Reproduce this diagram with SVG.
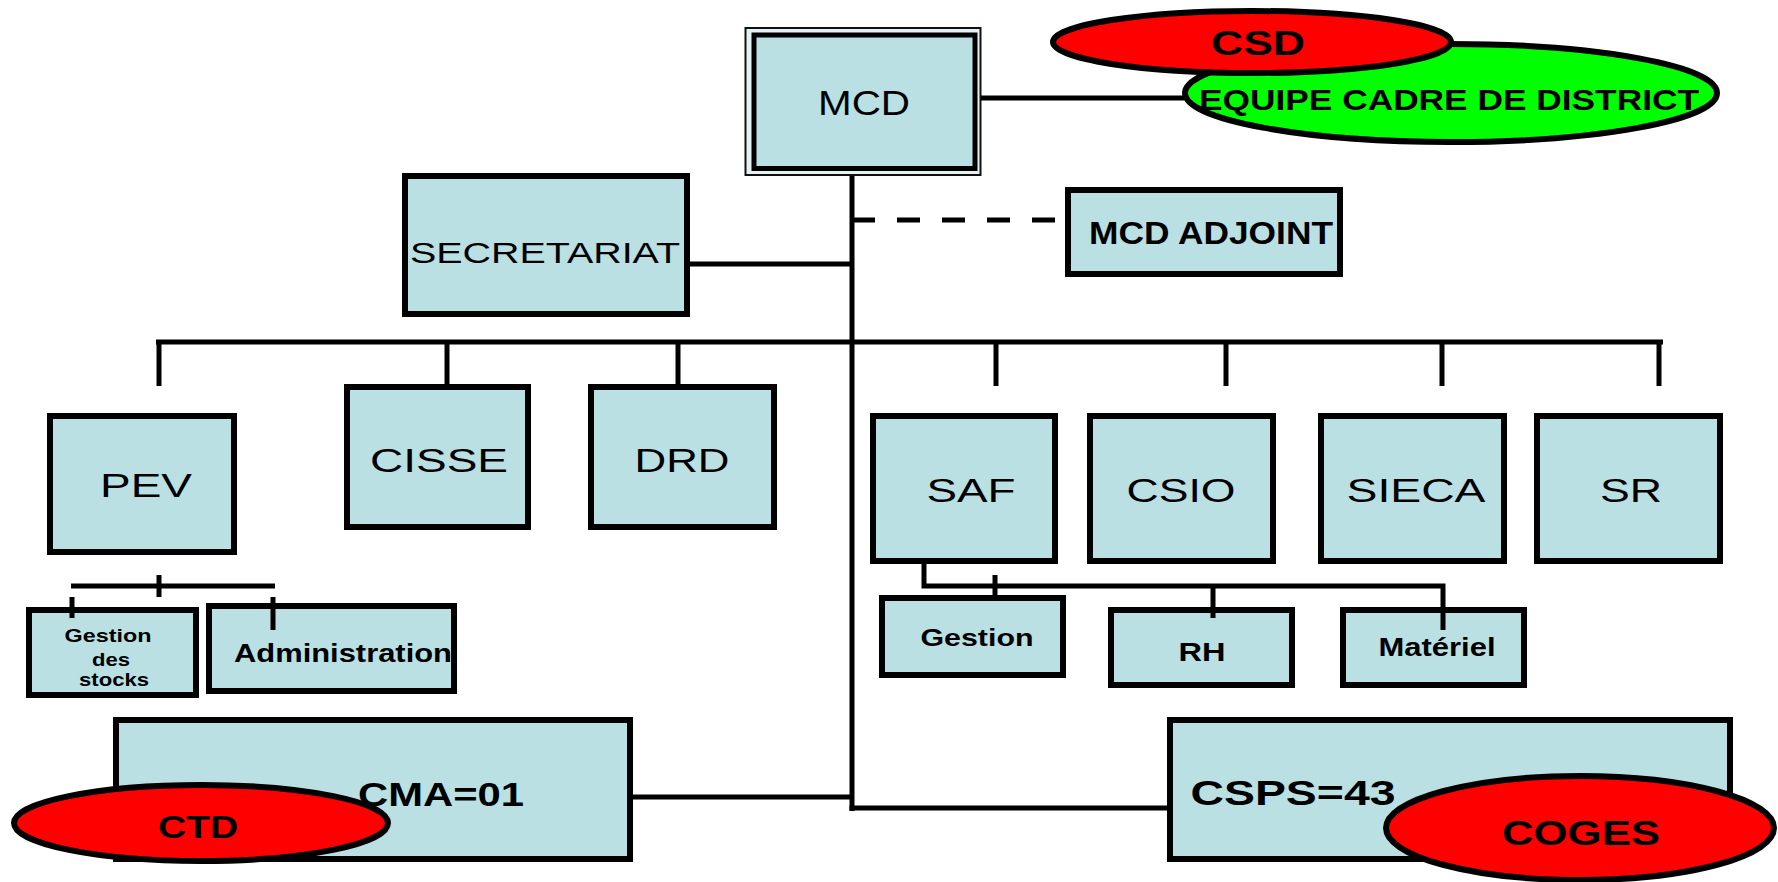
<svg xmlns="http://www.w3.org/2000/svg" width="1778" height="882" viewBox="0 0 1778 882">
<style>
.box{fill:#BBE0E3;stroke:#000;stroke-width:6}
.ell{stroke:#000;stroke-width:6}
.t{font-family:"Liberation Sans",Arial,sans-serif;text-anchor:middle;fill:#000}
.b{font-weight:bold}
.ln{stroke:#000;fill:none;stroke-width:5}
</style>
<rect width="1778" height="882" fill="#fff"/>
<g id="MCD">
<rect x="745.5" y="28" width="235" height="147" fill="#E4F2F3" stroke="#111" stroke-width="2"/>
<rect x="754" y="35" width="221" height="133.5" fill="#BBE0E3" stroke="#000" stroke-width="5"/>
<text class="t" x="864" y="115" font-size="35" textLength="92" lengthAdjust="spacingAndGlyphs">MCD</text>
</g>
<g id="SECRETARIAT">
<rect class="box" x="405" y="176" width="282" height="138"/>
<text class="t" x="545" y="263" font-size="30" textLength="270" lengthAdjust="spacingAndGlyphs">SECRETARIAT</text>
</g>
<g id="MCD_ADJOINT">
<rect class="box" x="1068" y="190" width="272" height="84"/>
<text class="t b" x="1211" y="244" font-size="31" textLength="244" lengthAdjust="spacingAndGlyphs">MCD ADJOINT</text>
</g>
<g id="PEV">
<rect class="box" x="50" y="416" width="184" height="136"/>
<text class="t" x="146" y="497" font-size="33" textLength="92" lengthAdjust="spacingAndGlyphs">PEV</text>
</g>
<g id="CISSE">
<rect class="box" x="347" y="387" width="181" height="140"/>
<text class="t" x="439" y="472" font-size="33" textLength="138" lengthAdjust="spacingAndGlyphs">CISSE</text>
</g>
<g id="DRD">
<rect class="box" x="591" y="387" width="183" height="140"/>
<text class="t" x="682" y="472" font-size="33" textLength="95" lengthAdjust="spacingAndGlyphs">DRD</text>
</g>
<g id="SAF">
<rect class="box" x="873" y="416" width="182" height="145"/>
<text class="t" x="971" y="502" font-size="33" textLength="89" lengthAdjust="spacingAndGlyphs">SAF</text>
</g>
<g id="CSIO">
<rect class="box" x="1090" y="416" width="183" height="145"/>
<text class="t" x="1181" y="502" font-size="33" textLength="109" lengthAdjust="spacingAndGlyphs">CSIO</text>
</g>
<g id="SIECA">
<rect class="box" x="1321" y="416" width="183" height="145"/>
<text class="t" x="1416" y="502" font-size="33" textLength="139" lengthAdjust="spacingAndGlyphs">SIECA</text>
</g>
<g id="SR">
<rect class="box" x="1537" y="416" width="183" height="145"/>
<text class="t" x="1631" y="502" font-size="33" textLength="62" lengthAdjust="spacingAndGlyphs">SR</text>
</g>
<g id="GESTION_STOCKS">
<rect class="box" x="29" y="610" width="167" height="85"/>
<text class="t b" x="108" y="642" font-size="19" textLength="87" lengthAdjust="spacingAndGlyphs">Gestion</text>
<text class="t b" x="111" y="666" font-size="19" textLength="38" lengthAdjust="spacingAndGlyphs">des</text>
<text class="t b" x="114" y="686" font-size="19" textLength="70" lengthAdjust="spacingAndGlyphs">stocks</text>
</g>
<g id="ADMINISTRATION">
<rect class="box" x="209" y="606" width="245" height="85"/>
<text class="t b" x="343" y="662" font-size="25" textLength="218" lengthAdjust="spacingAndGlyphs">Administration</text>
</g>
<g id="GESTION">
<rect class="box" x="882" y="598" width="181" height="77"/>
<text class="t b" x="977" y="646" font-size="24" textLength="113" lengthAdjust="spacingAndGlyphs">Gestion</text>
</g>
<g id="RH">
<rect class="box" x="1111" y="610" width="181" height="75"/>
<text class="t b" x="1202" y="661" font-size="25" textLength="47" lengthAdjust="spacingAndGlyphs">RH</text>
</g>
<g id="MATERIEL">
<rect class="box" x="1343" y="610" width="181" height="75"/>
<text class="t b" x="1437" y="656" font-size="25" textLength="117" lengthAdjust="spacingAndGlyphs">Matériel</text>
</g>
<g id="CMA">
<rect class="box" x="116" y="720" width="514" height="139"/>
<text class="t b" x="441" y="806" font-size="34" textLength="166" lengthAdjust="spacingAndGlyphs">CMA=01</text>
</g>
<g id="CTD">
<ellipse class="ell" cx="201" cy="823" rx="187" ry="38" fill="#FF0000"/>
<text class="t b" x="198" y="838" font-size="32" textLength="80" lengthAdjust="spacingAndGlyphs">CTD</text>
</g>
<g id="CSPS">
<rect class="box" x="1170" y="720" width="560" height="139"/>
<text class="t b" x="1293" y="805" font-size="35" textLength="205" lengthAdjust="spacingAndGlyphs">CSPS=43</text>
</g>
<g id="COGES">
<ellipse class="ell" cx="1580" cy="828" rx="194" ry="52" fill="#FF0000"/>
<text class="t b" x="1581" y="845" font-size="35" textLength="158" lengthAdjust="spacingAndGlyphs">COGES</text>
</g>
<g id="connectors">
<line class="ln" x1="981" y1="98" x2="1184" y2="98" stroke-width="7"/>
<line class="ln" x1="852" y1="176" x2="852" y2="811"/>
<line class="ln" x1="690" y1="264" x2="852" y2="264" stroke-width="6"/>
<line class="ln" x1="852" y1="220" x2="1065" y2="220" stroke-width="6" stroke-dasharray="23 22"/>
<line class="ln" x1="156" y1="342" x2="1663" y2="342" stroke-width="7"/>
<line class="ln" x1="159" y1="342" x2="159" y2="386"/>
<line class="ln" x1="447" y1="342" x2="447" y2="386"/>
<line class="ln" x1="678" y1="342" x2="678" y2="386"/>
<line class="ln" x1="996" y1="342" x2="996" y2="386" stroke-width="6"/>
<line class="ln" x1="1226" y1="342" x2="1226" y2="386"/>
<line class="ln" x1="1442" y1="342" x2="1442" y2="386"/>
<line class="ln" x1="1659" y1="342" x2="1659" y2="386"/>
<line class="ln" x1="71" y1="586" x2="275" y2="586" stroke-width="6"/>
<line class="ln" x1="159" y1="575" x2="159" y2="597"/>
<line class="ln" x1="72" y1="597" x2="72" y2="618"/>
<line class="ln" x1="273" y1="597" x2="273" y2="630"/>
<polyline class="ln" points="924,564 924,586 1443,586 1443,630"/>
<line class="ln" x1="995" y1="575" x2="995" y2="598"/>
<line class="ln" x1="1213" y1="586" x2="1213" y2="618"/>
<line class="ln" x1="633" y1="797" x2="852" y2="797" stroke-width="6"/>
<line class="ln" x1="849.5" y1="808" x2="1167" y2="808" stroke-width="7"/>
</g>
<g id="CSD_EQUIPE">
<ellipse class="ell" cx="1451" cy="93" rx="266" ry="49" fill="#00FF00"/>
<text class="t b" x="1449" y="110" font-size="30" textLength="500" lengthAdjust="spacingAndGlyphs">EQUIPE CADRE DE DISTRICT</text>
</g>
<g id="CSD">
<ellipse class="ell" cx="1252" cy="42" rx="199" ry="31" fill="#FF0000" stroke-width="5"/>
<text class="t b" x="1258" y="55" font-size="35" textLength="94" lengthAdjust="spacingAndGlyphs">CSD</text>
</g>
</svg>
